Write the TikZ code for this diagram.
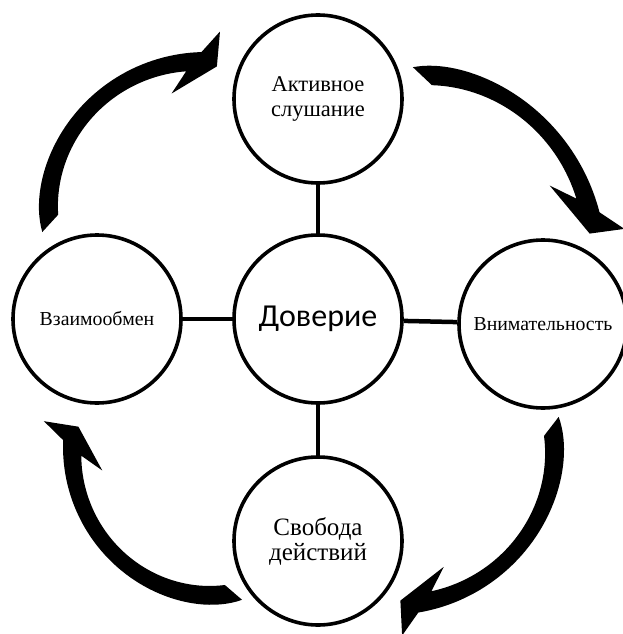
\documentclass[tikz,border=0pt]{standalone}
\usepackage{fontspec}
\setmainfont{Liberation Serif}
\newfontfamily\calibrifont{Carlito}
% curved block arrow: #1,#2 centre of the arc, #3 outer radius, #4 tail angle, #5 head-joint angle
\newcommand\blockcurvearrow[5]{%
  \fill[black]
    plot[domain=0:1, samples=50, variable=\s]
      ({#1 + (#3 - 6*(1-\s)^10)*cos(#4 + \s*(#5-#4))},
       {#2 - (#3 - 6*(1-\s)^10)*sin(#4 + \s*(#5-#4))})
    -- ({#1 + (#3+21)*cos(#5-5.7)}, {#2 - (#3+21)*sin(#5-5.7)})
    -- ({#1 + (#3-14)*cos(#5-5.5)}, {#2 - (#3-14)*sin(#5-5.5)})
    -- ({#1 + (#3-37)*cos(#5+13.5)}, {#2 - (#3-37)*sin(#5+13.5)})
    -- ({#1 + (#3-18)*cos(#5+6)}, {#2 - (#3-18)*sin(#5+6)})
    -- plot[domain=0:1, samples=50, variable=\u]
      ({#1 + (#3 - (14 + 8*(\u)^3 + 4*(1-\u)^3))*cos((#4-6.3) + (1-\u)*((#5+6)-(#4-6.3)))},
       {#2 - (#3 - (14 + 8*(\u)^3 + 4*(1-\u)^3))*sin((#4-6.3) + (1-\u)*((#5+6)-(#4-6.3)))})
    -- cycle;}
\begin{document}
\begin{tikzpicture}[x=1pt,y=-1pt,
  bubble/.style={circle, draw=black, line width=3.6pt, minimum size=168pt,
                 inner sep=0pt, align=center, fill=white},
  link/.style={draw=black, line width=4.5pt}]
\useasboundingbox (0,0) rectangle (622,634);
% circles
\node[bubble, font=\fontsize{22.5}{24.5}\selectfont] (listen) at (318,99) {Активное\\слушание};
\node[bubble, font=\calibrifont\fontsize{32}{36}\selectfont] (trust) at (318,319) {Доверие};
\node[bubble, font=\fontsize{19.8}{22}\selectfont] (exchange) at (97,319) {Взаимообмен};
\node[bubble, font=\fontsize{19.8}{22}\selectfont] (attention) at (543,324) {Внимательность};
\node[bubble, font=\fontsize{25}{25}\selectfont] (freedom) at (318,541) {Свобода\\действий};
% links
\draw[link] (listen) -- (trust);
\draw[link] (trust) -- (exchange);
\draw[link] (trust) -- (attention);
\draw[link] (trust) -- (freedom);
% curved arrows
\blockcurvearrow{206}{222}{170}{183.5}{91.5}
\blockcurvearrow{404}{263}{202}{87.4}{14.5}
\blockcurvearrow{389}{438}{177}{7.1}{-80.5}
\blockcurvearrow{223}{447}{160}{-82.9}{-182.5}
\end{tikzpicture}
\end{document}
